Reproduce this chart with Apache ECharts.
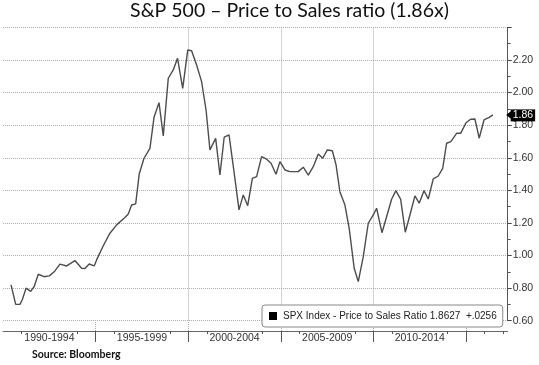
<!DOCTYPE html>
<html><head><meta charset="utf-8">
<script src="https://cdn.jsdelivr.net/npm/echarts@6/dist/echarts.min.js"></script>
<style>html,body{margin:0;padding:0;background:#fff}#c{width:539px;height:365px}</style>
</head><body><div id="c"></div>
<script>
const dates = [1990.43,1990.68,1990.91,1991.04,1991.24,1991.49,1991.68,1991.90,1992.22,1992.49,1992.76,1993.07,1993.43,1993.88,1994.24,1994.42,1994.65,1994.92,1995.05,1995.41,1995.77,1996.13,1996.58,1996.76,1996.94,1997.16,1997.35,1997.61,1997.93,1998.15,1998.42,1998.65,1998.92,1999.19,1999.42,1999.70,1999.97,2000.18,2000.45,2000.72,2000.96,2001.17,2001.48,2001.71,2001.94,2002.20,2002.47,2002.74,2002.97,2003.21,2003.46,2003.69,2003.96,2004.23,2004.47,2004.74,2004.95,2005.22,2005.49,2005.94,2006.21,2006.48,2006.75,2007.02,2007.26,2007.51,2007.78,2007.98,2008.19,2008.46,2008.69,2008.96,2009.18,2009.45,2009.72,2009.99,2010.17,2010.46,2010.71,2010.98,2011.21,2011.47,2011.72,2011.97,2012.24,2012.47,2012.73,2012.96,2013.23,2013.50,2013.74,2013.95,2014.18,2014.49,2014.71,2015.00,2015.25,2015.48,2015.71,2015.97,2016.25,2016.45];
const ratio = [0.82,0.70,0.70,0.73,0.80,0.78,0.81,0.885,0.87,0.875,0.90,0.947,0.936,0.969,0.922,0.92,0.948,0.936,0.973,1.06,1.137,1.188,1.233,1.255,1.31,1.317,1.50,1.597,1.658,1.848,1.938,1.734,2.088,2.139,2.21,2.026,2.261,2.257,2.169,2.067,1.893,1.648,1.719,1.494,1.726,1.74,1.515,1.28,1.372,1.306,1.474,1.484,1.607,1.591,1.566,1.499,1.576,1.525,1.515,1.515,1.542,1.494,1.545,1.623,1.597,1.648,1.643,1.556,1.39,1.31,1.167,0.922,0.84,0.993,1.198,1.249,1.29,1.14,1.238,1.345,1.398,1.345,1.143,1.249,1.366,1.321,1.398,1.347,1.47,1.488,1.535,1.689,1.699,1.75,1.75,1.815,1.836,1.838,1.72,1.832,1.848,1.863];
const periodLabels = ['1990-1994','1995-1999','2000-2004','2005-2009','2010-2014'];
const periodMid = [1992.5,1997.5,2002.5,2007.5,2012.5];
const boundaries = [1995,2000,2005,2010,2015];
const yearTicks = [1991,1994,1996,1999,2001,2004,2006,2009,2011,2014,2016,2017];
const seriesName = 'SPX Index - Price to Sales Ratio';
const lastValue = 1.8627;
const lastChange = '+.0256';
const tagText = '1.86';
const titleText = 'S&P 500 \u2013 Price to Sales ratio (1.86x)';
const sourceText = 'Source: Bloomberg';

const NF = "'Liberation Sans', Arial, sans-serif";
const txt = (size, extra) => Object.assign({fontFamily: NF, fontSize: size}, extra || {});

const X_MIN = 1990, X_MAX = 2017.25;
const chart = echarts.init(document.getElementById('c'), null, {renderer: 'canvas'});
const axisOffset = 10.3;
const baseX = {type: 'value', min: X_MIN, max: X_MAX, gridIndex: 0, position: 'bottom', offset: axisOffset};
chart.setOption({
  animation: false,
  backgroundColor: '#fff',
  grid: {left: 3.1, right: 31.3, top: 27.4, bottom: 44.3, containLabel: false},
  xAxis: [
    Object.assign({}, baseX, {
      interval: 5,
      axisLine: {show: true, lineStyle: {color: '#666', width: 1}},
      axisTick: {show: true, inside: true, length: axisOffset, customValues: boundaries, lineStyle: {color: '#aaa', type: 'dotted'}},
      axisLabel: {show: false},
      splitLine: {show: true, showMinLine: false, showMaxLine: false, lineStyle: {color: '#aaa', type: 'dotted'}}
    }),
    Object.assign({}, baseX, {
      interval: 5,
      axisLine: {show: false},
      axisTick: {show: true, length: 11, customValues: boundaries, lineStyle: {color: '#555'}},
      axisLabel: {show: false},
      splitLine: {show: false}
    }),
    Object.assign({}, baseX, {
      axisLine: {show: false},
      axisTick: {show: true, length: 3, customValues: yearTicks, lineStyle: {color: '#555'}},
      axisLabel: txt(10.5, {show: true, customValues: periodMid, margin: 2, color: '#333',
        formatter: v => { const i = periodMid.findIndex(m => Math.abs(m - v) < 0.01); return i >= 0 ? periodLabels[i] : ''; }}),
      splitLine: {show: false}
    })
  ],
  yAxis: {
    type: 'value', position: 'right', min: 0.6, max: 2.4, interval: 0.2,
    axisLine: {show: true, lineStyle: {color: '#555'}},
    axisTick: {show: true, length: 4, lineStyle: {color: '#444'}},
    minorTick: {show: true, splitNumber: 2, length: 3, lineStyle: {color: '#555'}},
    axisLabel: txt(10.5, {margin: 5, color: '#333', formatter: v => v > 2.39 ? '' : v.toFixed(2)}),
    splitLine: {show: true, lineStyle: {color: '#aaa', type: 'dotted'}}
  },
  legend: {
    show: true, left: 262, top: 305, orient: 'horizontal',
    padding: [6, 6, 6, 7], itemWidth: 8, itemHeight: 8, itemGap: 4,
    backgroundColor: '#fff', borderColor: '#888', borderWidth: 1, borderRadius: 3,
    icon: 'rect',
    data: [{name: seriesName, itemStyle: {color: '#000'}}],
    textStyle: txt(10, {color: '#222', padding: [0, 0, 0, 1]}),
    formatter: n => n + ' ' + lastValue.toFixed(4) + '  ' + lastChange
  },
  graphic: [
    {type: 'text', x: 289.5, y: 1, style: {text: titleText, textAlign: 'center', textVerticalAlign: 'top', font: '19.5px Lato, sans-serif', fill: '#111'}},
    {type: 'text', x: 32, y: 355, style: {text: sourceText, textAlign: 'left', textVerticalAlign: 'middle', font: 'bold 10.5px Lato, sans-serif', fill: '#111'}}
  ],
  series: [{
    name: seriesName, type: 'line', xAxisIndex: 0, yAxisIndex: 0,
    data: dates.map((d, i) => [d, ratio[i]]),
    showSymbol: false, symbol: 'none',
    lineStyle: {color: '#4d4d4d', width: 1.4},
    itemStyle: {color: '#4d4d4d'},
    markLine: {
      silent: true, symbol: 'none', animation: false,
      lineStyle: {color: 'rgba(0,0,0,0)', width: 0},
      label: txt(10.5, {show: true, position: 'end', distance: 3, formatter: tagText, color: '#fff', backgroundColor: '#000',
        padding: [1, 2, 0, 2]}),
      data: [{yAxis: lastValue}]
    },
    markPoint: {
      silent: true, animation: false,
      symbol: 'triangle', symbolSize: [8, 5], symbolRotate: 90, symbolOffset: [1, 0],
      itemStyle: {color: '#000'}, label: {show: false},
      data: [{coord: [X_MAX, lastValue]}]
    }
  }]
});
</script></body></html>
